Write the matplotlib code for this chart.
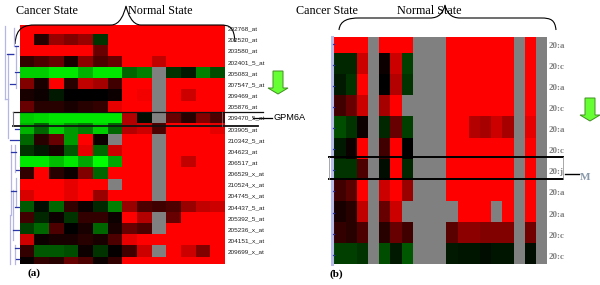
import numpy as np
import matplotlib
matplotlib.use('Agg')
import matplotlib.pyplot as plt
from matplotlib.colors import LinearSegmentedColormap
from matplotlib.path import Path
from matplotlib.patches import PathPatch, Polygon

N = np.nan
R = 10

# panel a, expression levels: -10 green, 0 black, +10 red, nan grey
labels_a = ['202768_at', '202520_at', '203580_at', '202401_5_at', '205083_at', '207547_5_at',
            '209469_at', '205876_at', '209470_5_at', '203905_at', '210342_5_at', '204623_at',
            '206517_at', '206529_x_at', '210524_x_at', '204745_x_at', '204437_5_at',
            '205392_5_at', '205236_x_at', '204151_x_at', '209699_x_at']
values_a = [
    [R, R, R, R, R, R, R, R, R, R, R, R, R, R],
    [R, 1.5, 6, 5, 6, -2, R, R, R, R, R, R, R, R],
    [R, R, R, R, R, 4, R, R, R, R, R, R, R, R],
    [2, 3, 4, 1, 5.5, 3, 4, R, R, 7.5, R, R, R, R],
    [-8, -8, -9, -9, -7, -9, -9, -4, -5, N, -2, -1, -5, -3],
    [5, 1, R, 1.5, 7.5, 6.5, 2.5, R, R, N, R, R, R, R],
    [1, 0.5, -1, 0, 0, 0, 0.5, R, 9.5, N, R, 8, R, R],
    [4, 1.5, 1.5, 1, 1.5, 2, 9, R, R, N, R, R, R, R],
    [-8, -8.5, -9, -9, -9, -9, -9, 7, -0.5, N, 4, 1.5, 5, 3],
    [-7, -4, -8, -6, -5, -8, -4, 7, 8, 3, R, R, R, 9],
    [-4, 1.5, 4, -6, R, 0.5, N, R, R, N, R, R, R, R],
    [-2, -1, 1, -3.5, 9, -4, 8, R, R, N, R, R, R, R],
    [-9, -9, -7.5, -9, -6.5, -10, -6.5, R, R, N, R, 7.5, R, R],
    [2, R, 1.5, 0.5, 5, -4, R, R, R, N, R, R, R, R],
    [R, R, R, 9, R, R, N, R, R, N, R, R, R, R],
    [8.5, R, R, 9, R, 6, R, R, R, N, R, R, R, R],
    [-3.5, -0.5, -4, 2, 0.5, -1.5, -5, 6, 3, 2.5, 3, 6, 7.5, 8],
    [2.5, -1.5, 0.5, -2, 2, 2, 0.5, R, 7, N, 4, R, R, R],
    [-2.5, -4, 3, 0, 1, -4, 1, 4, 3, N, R, R, R, R],
    [8, 0.5, 1, 1, 1.5, 1, 3, 9, R, R, R, R, R, R],
    [2, -3.5, -3.5, -3, 0.5, -2, 0.2, 2.5, 8, N, R, 8, 5, R],
    [0.3, 2, 1.5, 4, 3, 0.5, 2, R, R, R, R, R, R, R],
]

# panel b, same scale
labels_b = ['20:a', '20:c', '20:a', '20:c', '20:a', '20:c', '20:j', '20:a', '20:a', '20:c', '20:c']
values_b = [
    [R, R, R, N, R, R, R, N, N, N, R, R, R, R, R, R, N, R, N],
    [-1.5, -1.5, 8, N, 0.5, 8, -2.5, N, N, N, R, R, R, R, R, R, N, R, N],
    [-1, -2, R, N, 0, 7, -2, N, N, N, R, R, R, R, R, R, N, R, N],
    [2.5, 4, 8, N, 6.5, R, N, N, N, N, R, R, R, R, R, R, N, R, N],
    [-3, -2, 0.5, N, -1.5, 4, -2.5, N, N, N, R, R, 7, 6.5, 8, 6.5, N, 9, N],
    [-1, 0.5, R, N, 2.5, R, 0, N, N, N, R, R, R, R, R, R, N, R, N],
    [-2, -2, 3, N, -0.5, R, -1.5, N, N, N, R, R, R, R, R, R, N, R, N],
    [2.5, 3.5, R, N, 8, R, 6, N, N, N, R, R, R, R, R, R, N, R, N],
    [1, 1.5, 7.5, N, 4, 8, N, N, N, N, N, R, R, R, N, R, N, R, N],
    [2, 1.5, 3, N, 1.5, 4, 2.5, N, N, N, 3.5, 5.5, 5.5, 5, 5, 5, N, 4.5, N],
    [-2.5, -2.5, -2, N, -3, -1, -3.5, N, N, N, -1, -0.8, -0.8, -0.5, -0.8, -0.8, N, -0.5, N],
]

# dendrogram of panel a, (x0, y0, x1, y1)
tree_light = [(5, 26, 5, 99), (5, 99, 8, 99), (8, 54, 8, 138), (14, 28, 14, 46), (16, 46, 16, 70),
              (8, 54, 14, 54), (16, 72, 16, 88), (13, 112, 13, 126), (11, 145, 11, 215),
              (10, 215, 10, 264), (15, 145, 15, 172), (13, 190, 13, 240), (16, 178, 16, 206),
              (15, 245, 15, 264)]
tree_dark = [(7, 54, 13, 54), (15, 46, 18, 46), (15, 72, 19, 72), (10, 84, 15, 84), (10, 140, 19, 140),
             (11, 152, 16, 152), (16, 170, 19, 170), (11, 191, 16, 191), (15, 207, 19, 207),
             (13, 230, 19, 230), (15, 248, 19, 248), (16, 259, 19, 259), (15, 129, 19, 129)]

cmap = LinearSegmentedColormap.from_list('gbr', ['#00ff00', '#000000', '#ff0000'])
cmap.set_bad('#808080')

plt.rcParams['font.family'] = ['Liberation Serif', 'DejaVu Serif']
W, H = 600, 285
fig = plt.figure(figsize=(W / 100, H / 100), dpi=100, facecolor='white')


def pixel_axes(x0, y0, x1, y1):
    return fig.add_axes([x0 / W, 1 - y1 / H, (x1 - x0) / W, (y1 - y0) / H])


# heatmaps, rows run past the top and bottom edge and are cut by the limits
ax_a = pixel_axes(19.5, 25, 225, 264)
rows_a = np.arange(len(values_a) + 1) * 11.15 + 22.5
cols_a = np.linspace(19.5, 225, 15)
ax_a.pcolormesh(cols_a, rows_a, np.array(values_a), cmap=cmap, vmin=-10, vmax=10)
ax_a.set_xlim(19.5, 225)
ax_a.set_ylim(264, 25)
ax_a.axis('off')

ax_b = pixel_axes(334.3, 36.7, 547.3, 264)
rows_b = np.arange(len(values_b) + 1) * 21.07 + 32.2
cols_b = np.linspace(334.3, 547.3, 20)
ax_b.pcolormesh(cols_b, rows_b, np.array(values_b), cmap=cmap, vmin=-10, vmax=10)
ax_b.set_xlim(334.3, 547.3)
ax_b.set_ylim(264, 36.7)
ax_b.axis('off')

# everything else goes on a pixel overlay
ov = fig.add_axes([0, 0, 1, 1])
ov.set_xlim(0, W)
ov.set_ylim(H, 0)
ov.axis('off')
ov.patch.set_alpha(0)

for x0, y0, x1, y1 in tree_light:
    ov.plot([x0, x1], [y0, y1], color='#b4b6e4', lw=0.9)
for x0, y0, x1, y1 in tree_dark:
    ov.plot([x0, x1], [y0, y1], color='#2a35a8', lw=0.9)
ov.plot([331.5, 331.5], [37, 264], color='#b8bce8', lw=2.2)
for i in range(len(values_b)):
    ov.plot([332.5, 334], [44 + i * 21.07, 44 + i * 21.07], color='#2a35a8', lw=0.9)

for i, lab in enumerate(labels_a):
    ov.text(228, 29 + i * 11.15, lab, family='Liberation Sans', fontsize=4.6, color='#222222',
            ha='left', va='center')
for i, lab in enumerate(labels_b):
    ov.text(549, 46 + i * 21.07, lab, fontsize=6.5, color='#808080', fontweight='bold',
            ha='left', va='center')

ov.text(16, 11.5, 'Cancer State', fontsize=8.7, ha='left', va='center')
ov.text(128, 11.5, 'Normal State', fontsize=8.7, ha='left', va='center')
ov.text(296, 11.5, 'Cancer State', fontsize=8.7, ha='left', va='center')
ov.text(397, 11.5, 'Normal State', fontsize=8.7, ha='left', va='center')
ov.text(28, 273, '(a)', fontsize=8, fontweight='bold', ha='left', va='center')
ov.text(330, 274, '(b)', fontsize=8, fontweight='bold', ha='left', va='center')


def brace(x0, y0, y1, xm, ym, xe, ye):
    # curly bracket: up from the left end, along the top, to the middle tip and back
    verts = [(x0, y0), (x0 + 1, y1 + 2), (x0 + 10, y1), (x0 + 20, y1),
             (xm - 30, y1), (xm - 30, y1), (xm - 15, y1),
             (xm - 6, y1), (xm - 2, ym + 8), (xm, ym),
             (xm + 2, ym + 8), (xm + 6, y1), (xm + 15, y1),
             (xe - 20, y1), (xe - 20, y1), (xe - 15, y1),
             (xe - 5, y1), (xe - 1, y1 + 2), (xe, ye)]
    codes = [Path.MOVETO] + [Path.CURVE4] * 18
    ov.add_patch(PathPatch(Path(verts, codes), fc='none', ec='black', lw=0.8))


brace(15, 44, 25, 126, 6, 235, 42)
brace(339, 30, 18, 445, 5, 556, 30)

# boxes around GPM6A
ov.plot([13, 263], [112, 112], color='#111111', lw=0.9)
ov.plot([13, 258], [125.7, 125.7], color='#111111', lw=1.3)
ov.plot([13, 13], [112, 126], color='#777777', lw=0.7)
ov.plot([222, 222], [112, 126], color='#888888', lw=0.5)
ov.plot([253, 272], [118, 118], color='black', lw=0.9)
ov.text(273, 117.5, 'GPM6A', family='Liberation Sans', fontsize=6.6, ha='left', va='center')

ov.plot([329, 563], [157.3, 157.3], color='black', lw=1.4)
ov.plot([329, 563], [178.7, 178.7], color='black', lw=1.4)
ov.plot([329, 329], [157, 179], color='#999999', lw=0.6)
ov.plot([563, 563], [157, 179], color='#999999', lw=0.6)
ov.plot([565, 579], [174, 174], color='black', lw=1.0)
ov.text(585, 177, 'M', fontsize=8, fontweight='bold', color='#8899aa', ha='center', va='center')

# green arrows
for cx, top in [(278, 71), (590, 98)]:
    arrow = [(cx - 5, top), (cx + 5, top), (cx + 5, top + 17), (cx + 10, top + 17), (cx, top + 23),
             (cx - 10, top + 17), (cx - 5, top + 17)]
    ov.add_patch(Polygon(arrow, closed=True, fc='#66ff33', ec='#3f8f20', lw=0.7))

fig.savefig('out.png', dpi=100)
